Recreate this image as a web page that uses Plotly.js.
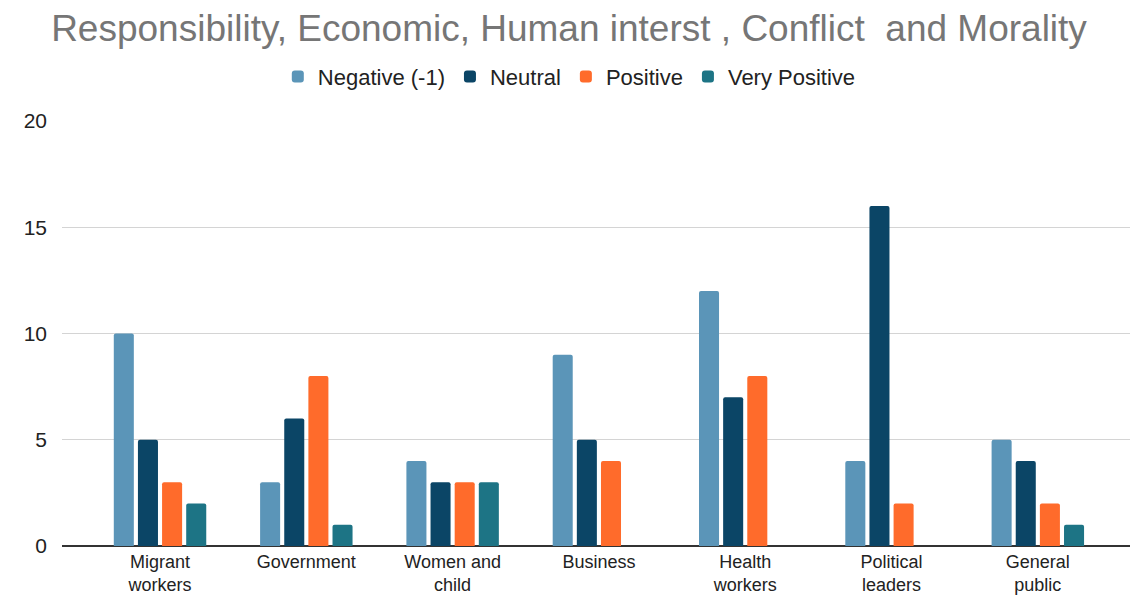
<!DOCTYPE html>
<html>
<head>
<meta charset="utf-8">
<script src="https://cdn.plot.ly/plotly-3.0.1.min.js"></script>
<style>html,body{margin:0;padding:0;background:#fff;}#chart{width:1138px;height:599px;}</style>
</head>
<body>
<div id="chart"></div>
<script>
const categories = ["Migrant<br>workers", "Government", "Women and<br>child", "Business", "Health<br>workers", "Political<br>leaders", "General<br>public"];
const seriesNames = ["Negative (-1)", "Neutral", "Positive", "Very Positive"];
const negative = [10, 3, 4, 9, 12, 4, 5];
const neutral = [5, 6, 3, 5, 7, 16, 4];
const positive = [3, 8, 3, 4, 8, 2, 2];
const veryPositive = [2, 1, 3, 0, 0, 0, 1];
const yTicks = [0, 5, 10, 15, 20];

const colors = ["#5b95b8", "#0b4566", "#ff6b2b", "#1d7485"];
const allValues = [negative, neutral, positive, veryPositive];

const traces = allValues.map((vals, i) => ({
  type: "bar",
  name: seriesNames[i],
  x: categories,
  y: vals,
  marker: { color: colors[i], cornerradius: 2, line: { width: 0 } },
  hoverinfo: "x+y+name"
}));

const layout = {
  width: 1138,
  height: 599,
  paper_bgcolor: "#ffffff",
  plot_bgcolor: "#ffffff",
  font: { family: "Liberation Sans, Arial, sans-serif", color: "#222222" },
  title: {
    text: "Responsibility, Economic, Human interst , Conflict  and Morality",
    font: { size: 37, color: "#767676", family: "Liberation Sans, Arial, sans-serif" },
    x: 0.5, xanchor: "center", xref: "container",
    y: 0.953, yanchor: "middle", yref: "container"
  },
  legend: {
    orientation: "h",
    x: 0.475, xanchor: "center",
    y: 1.104, yanchor: "middle",
    font: { size: 22, color: "#222222" },
    traceorder: "normal"
  },
  margin: { l: 62, r: 8, t: 121, b: 53, autoexpand: false },
  barmode: "group",
  bargap: 0.34,
  bargroupgap: 0.17,
  xaxis: {
    type: "category",
    range: [-0.67, 6.63],
    showgrid: false,
    showline: false,
    ticks: "",
    tickangle: 0,
    ticklabelstandoff: 3,
    tickfont: { size: 18, color: "#222222" },
    fixedrange: true
  },
  yaxis: {
    range: [0, 20],
    tickvals: yTicks,
    ticktext: yTicks.map(String),
    showgrid: true,
    gridcolor: "#d4d4d4",
    gridwidth: 1,
    zeroline: true,
    zerolinecolor: "#333333",
    zerolinewidth: 1.5,
    showline: false,
    ticks: "",
    ticklabelstandoff: 14,
    tickfont: { size: 21, color: "#222222" },
    fixedrange: true
  },
  showlegend: true
};

Plotly.newPlot("chart", traces, layout, { displayModeBar: false, staticPlot: true });
</script>
</body>
</html>
